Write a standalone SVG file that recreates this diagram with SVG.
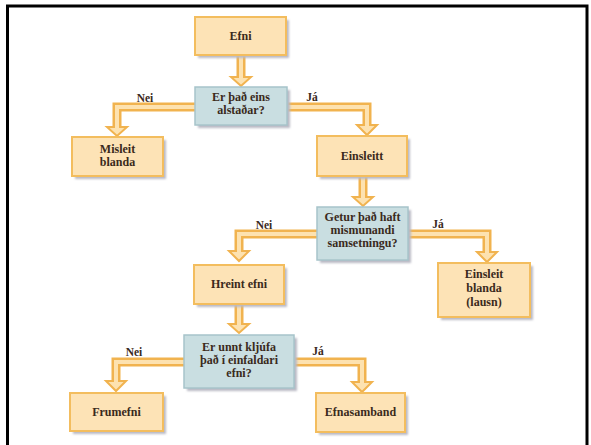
<svg xmlns="http://www.w3.org/2000/svg" width="591" height="445" viewBox="0 0 591 445">
<defs>
<style>
.box{fill:#fde3b6;stroke:#f3bd5e;stroke-width:2}
.dec{fill:#c9dee1;stroke:#a7c4ca;stroke-width:1.5}
.sh{fill:#b9b9c4;filter:url(#blur)}
.t{font-family:"Liberation Serif","Times New Roman",serif;font-weight:bold;font-size:12px;fill:#3a2a1c;text-anchor:middle}
.lbl{font-family:"Liberation Serif","Times New Roman",serif;font-weight:bold;font-size:11.5px;fill:#3a2a1c;text-anchor:middle}
.out{fill:none;stroke:#f1b34f;stroke-width:9}
.in{fill:none;stroke:#fde2b0;stroke-width:4}
.head{fill:#fde2b0;stroke:#f1b34f;stroke-width:2;stroke-linejoin:miter}
</style>
<filter id="blur" x="-10%" y="-10%" width="120%" height="120%"><feGaussianBlur stdDeviation="1.2"/></filter>
</defs>
<rect x="0" y="0" width="591" height="445" fill="#ffffff"/>
<path d="M7.5,448 V6 H587 V448" fill="none" stroke="#000" stroke-width="3"/>

<g id="connectors">
<g class="outer">
<path class="out" d="M241,55 V78"/>
<path class="out" d="M195,107 H117 V128"/>
<path class="out" d="M287,107 H367 V126"/>
<path class="out" d="M363,176 V198"/>
<path class="out" d="M317,234 H239 V252"/>
<path class="out" d="M408,234 H487 V253"/>
<path class="out" d="M239,304 V325"/>
<path class="out" d="M184,362 H116 V382"/>
<path class="out" d="M294,362 H362 V383"/>
</g>
<polygon class="head" points="231,77 251,77 241,86"/>
<polygon class="head" points="107,127 127,127 117,136"/>
<polygon class="head" points="357,125 377,125 367,135"/>
<polygon class="head" points="353,197 373,197 363,206"/>
<polygon class="head" points="229,251 249,251 239,261"/>
<polygon class="head" points="477,252 497,252 487,262"/>
<polygon class="head" points="229,324 249,324 239,333"/>
<polygon class="head" points="106,381 126,381 116,391"/>
<polygon class="head" points="352,382 372,382 362,392"/>
<g class="inner">
<path class="in" d="M241,54 V80"/>
<path class="in" d="M196,107 H117 V130"/>
<path class="in" d="M286,107 H367 V128"/>
<path class="in" d="M363,175 V200"/>
<path class="in" d="M318,234 H239 V254"/>
<path class="in" d="M407,234 H487 V255"/>
<path class="in" d="M239,303 V327"/>
<path class="in" d="M185,362 H116 V384"/>
<path class="in" d="M293,362 H362 V385"/>
</g>
<text class="lbl" x="145" y="102">Nei</text>
<text class="lbl" x="312" y="101">Já</text>
<text class="lbl" x="264" y="229">Nei</text>
<text class="lbl" x="438" y="228">Já</text>
<text class="lbl" x="134" y="356">Nei</text>
<text class="lbl" x="318" y="355">Já</text>
</g>

<g id="efni">
<rect class="sh" x="198" y="20" width="91" height="38"/>
<rect class="box" x="195" y="17" width="91" height="38"/>
<text class="t" x="240.5" y="40">Efni</text>
</g>
<g id="dec1">
<rect class="sh" x="198" y="90" width="92" height="38"/>
<rect class="dec" x="195" y="87" width="92" height="38"/>
<text class="t" x="241" y="101">Er það eins</text>
<text class="t" x="241" y="114">alstaðar?</text>
</g>
<g id="misleit">
<rect class="sh" x="75" y="140" width="91" height="39"/>
<rect class="box" x="72" y="137" width="91" height="39"/>
<text class="t" x="117.5" y="153">Misleit</text>
<text class="t" x="117.5" y="166">blanda</text>
</g>
<g id="einsleitt">
<rect class="sh" x="320" y="139" width="90" height="40"/>
<rect class="box" x="317" y="136" width="90" height="40"/>
<text class="t" x="362" y="160">Einsleitt</text>
</g>
<g id="dec2">
<rect class="sh" x="320" y="210" width="91" height="53"/>
<rect class="dec" x="317" y="207" width="91" height="53"/>
<text class="t" x="362.5" y="221">Getur það haft</text>
<text class="t" x="362.5" y="234">mismunandi</text>
<text class="t" x="362.5" y="247">samsetningu?</text>
</g>
<g id="einsleitblanda">
<rect class="sh" x="441" y="266" width="92" height="54"/>
<rect class="box" x="438" y="263" width="92" height="54"/>
<text class="t" x="484" y="278">Einsleit</text>
<text class="t" x="484" y="292">blanda</text>
<text class="t" x="484" y="306">(lausn)</text>
</g>
<g id="hreint">
<rect class="sh" x="197" y="268" width="90" height="39"/>
<rect class="box" x="194" y="265" width="90" height="39"/>
<text class="t" x="239" y="288">Hreint efni</text>
</g>
<g id="dec3">
<rect class="sh" x="187" y="338" width="110" height="53"/>
<rect class="dec" x="184" y="335" width="110" height="53"/>
<text class="t" x="239" y="351">Er unnt kljúfa</text>
<text class="t" x="239" y="364">það í einfaldari</text>
<text class="t" x="239" y="377">efni?</text>
</g>
<g id="frumefni">
<rect class="sh" x="73" y="396" width="93" height="38"/>
<rect class="box" x="70" y="393" width="93" height="38"/>
<text class="t" x="116.5" y="416">Frumefni</text>
</g>
<g id="efnasamband">
<rect class="sh" x="319" y="396" width="89" height="39"/>
<rect class="box" x="316" y="393" width="89" height="39"/>
<text class="t" x="360.5" y="416">Efnasamband</text>
</g>
</svg>
